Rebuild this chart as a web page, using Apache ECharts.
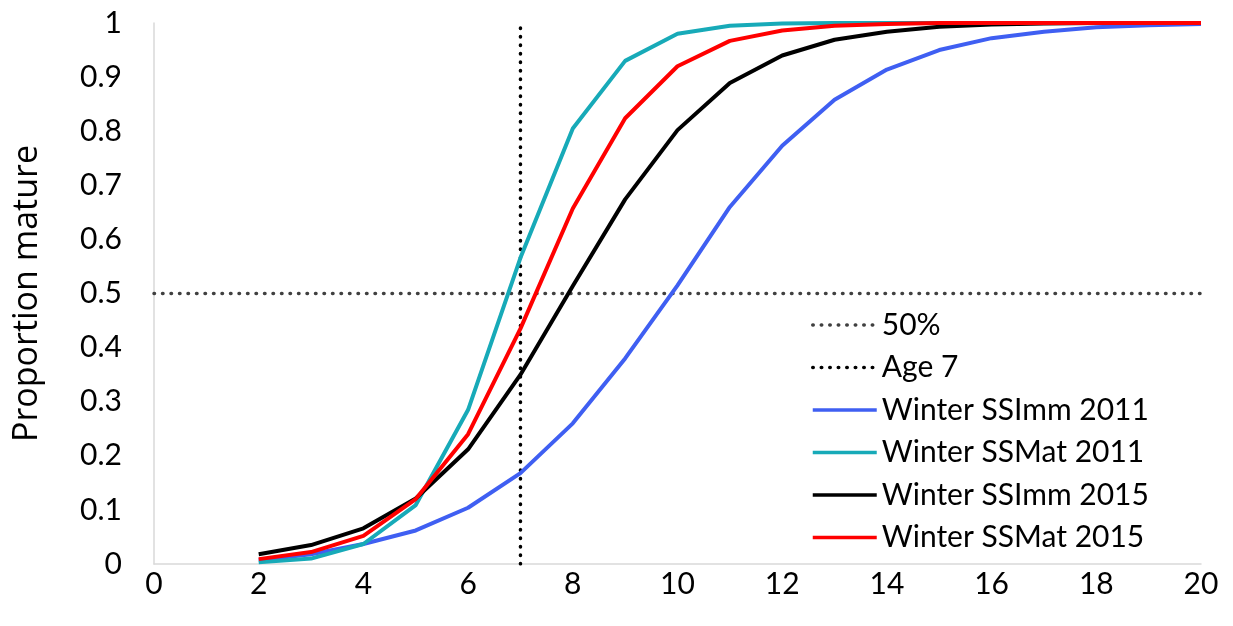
<!DOCTYPE html>
<html>
<head>
<meta charset="utf-8">
<script src="https://cdn.jsdelivr.net/npm/echarts@6/dist/echarts.min.js"></script>
<style>
  html, body { margin: 0; padding: 0; background: #fff; }
  #chart { width: 1233px; height: 626px; }
</style>
</head>
<body>
<div id="chart"></div>
<script>
// ages on the x axis
const ages = [2, 3, 4, 5, 6, 7, 8, 9, 10, 11, 12, 13, 14, 15, 16, 17, 18, 19, 20];

// proportion mature per age
const ssImm2011 = [0.007, 0.018, 0.037, 0.062, 0.104, 0.168, 0.26, 0.38, 0.515, 0.66, 0.773, 0.858, 0.914, 0.95, 0.972, 0.984, 0.992, 0.996, 0.998];
const ssMat2011 = [0.003, 0.01, 0.037, 0.109, 0.285, 0.566, 0.805, 0.93, 0.98, 0.995, 0.999, 1, 1, 1, 1, 1, 1, 1, 1];
const ssImm2015 = [0.018, 0.035, 0.066, 0.121, 0.212, 0.35, 0.514, 0.674, 0.802, 0.889, 0.94, 0.969, 0.984, 0.993, 0.997, 0.999, 1, 1, 1];
const ssMat2015 = [0.009, 0.022, 0.052, 0.12, 0.24, 0.435, 0.657, 0.824, 0.92, 0.967, 0.986, 0.995, 0.998, 1, 1, 1, 1, 1, 1];

// reference lines
const line50 = [[0, 0.5], [20, 0.5]];
const lineAge7 = [[7, 0], [7, 1]];

const pairs = (ys) => ages.map((a, i) => [a, ys[i]]);

const FONT = 'Lato';
const DOTS = [0.5, 8];

const chart = echarts.init(document.getElementById('chart'));

function curve(name, ys, color) {
  return {
    name: name,
    type: 'line',
    data: pairs(ys),
    symbol: 'none',
    lineStyle: { color: color, width: 4 },
    itemStyle: { color: color },
    z: 3
  };
}

chart.setOption({
  animation: false,
  grid: { left: 154, right: 32, top: 23, bottom: 62, containLabel: false },
  legend: {
    orient: 'vertical',
    left: 806,
    top: 305,
    itemWidth: 64,
    itemHeight: 14,
    itemGap: 12.5,
    itemStyle: { opacity: 0 },
    lineStyle: { width: 3.5 },
    textStyle: { fontFamily: FONT, fontSize: 30, color: '#000' },
    data: ['50%', 'Age 7', 'Winter SSImm 2011', 'Winter SSMat 2011', 'Winter SSImm 2015', 'Winter SSMat 2015']
  },
  xAxis: {
    type: 'value',
    min: 0,
    max: 20,
    interval: 2,
    axisLine: { show: true, lineStyle: { color: '#d9d9d9', width: 1.5 } },
    axisTick: { show: false },
    splitLine: { show: false },
    axisLabel: { fontFamily: FONT, fontSize: 30, color: '#000', margin: 5 }
  },
  yAxis: {
    type: 'value',
    min: 0,
    max: 1,
    interval: 0.1,
    name: 'Proportion mature',
    nameLocation: 'middle',
    nameGap: 110,
    nameTextStyle: { fontFamily: 'Open Sans', fontSize: 34, color: '#000' },
    axisLine: { show: true, lineStyle: { color: '#d9d9d9', width: 1.5 } },
    axisTick: { show: false },
    splitLine: { show: false },
    axisLabel: { fontFamily: FONT, fontSize: 30, color: '#000', margin: 32 }
  },
  series: [
    {
      name: '50%',
      type: 'line',
      data: line50,
      symbol: 'none',
      lineStyle: { color: '#404040', width: 3.5, type: DOTS, cap: 'round' },
      itemStyle: { color: '#404040' },
      z: 2
    },
    {
      name: 'Age 7',
      type: 'line',
      data: lineAge7,
      symbol: 'none',
      lineStyle: { color: '#000', width: 3.5, type: DOTS, cap: 'round' },
      itemStyle: { color: '#000' },
      z: 2
    },
    curve('Winter SSImm 2011', ssImm2011, '#3f5ff2'),
    curve('Winter SSMat 2011', ssMat2011, '#17aab8'),
    curve('Winter SSImm 2015', ssImm2015, '#000000'),
    curve('Winter SSMat 2015', ssMat2015, '#ff0000')
  ]
});
</script>
</body>
</html>
